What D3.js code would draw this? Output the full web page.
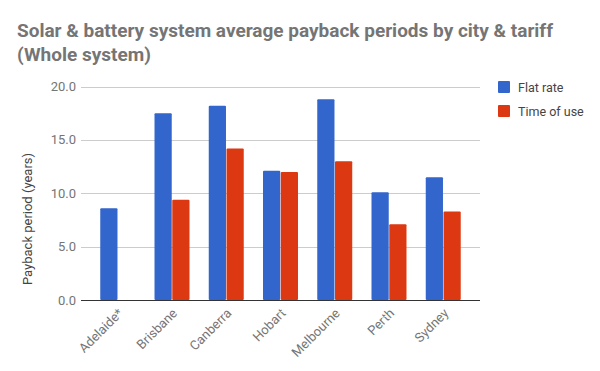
<!DOCTYPE html>
<html>
<head>
<meta charset="utf-8">
<script src="https://cdn.jsdelivr.net/npm/d3@7"></script>
<style>
  body { margin: 0; background: #fff; }
  text { font-family: Roboto, "Noto Sans", sans-serif; }
  .grid line { stroke: #cccccc; }
  .tick-label { fill: #757575; font-size: 13px; }
</style>
</head>
<body>
<svg id="chart" width="600" height="371"></svg>
<script>
// chart data
var cities = ["Adelaide*", "Brisbane", "Canberra", "Hobart", "Melbourne", "Perth", "Sydney"];
var seriesNames = ["Flat rate", "Time of use"];
var flatRate = [8.6, 17.5, 18.2, 12.1, 18.8, 10.1, 11.5];
var timeOfUse = [null, 9.4, 14.2, 12.0, 13.0, 7.1, 8.3];
var yTicks = [0, 5, 10, 15, 20];

var colors = ["#3366cc", "#dc3912"];

var svg = d3.select("#chart"),
    plotLeft = 81, plotRight = 480, plotTop = 86.5, plotBottom = 300;

var x = d3.scaleBand()
  .domain(cities)
  .range([plotLeft, plotRight])
  .paddingInner(0.355)
  .paddingOuter(0.355);

var xSub = d3.scaleBand()
  .domain(seriesNames)
  .range([0, x.bandwidth()])
  .paddingInner(0.03);

var y = d3.scaleLinear()
  .domain([0, 20])
  .range([plotBottom, plotTop]);

// title
svg.append("text")
  .attr("x", 17)
  .attr("y", 37)
  .attr("fill", "#757575")
  .attr("font-size", "19px")
  .attr("font-weight", "bold")
  .text("Solar & battery system average payback periods by city & tariff");
svg.append("text")
  .attr("x", 17)
  .attr("y", 61)
  .attr("fill", "#757575")
  .attr("font-size", "19px")
  .attr("font-weight", "bold")
  .text("(Whole system)");

// gridlines
svg.append("g")
  .attr("class", "grid")
  .selectAll("line")
  .data(yTicks.slice(1))
  .enter().append("line")
    .attr("x1", plotLeft)
    .attr("x2", plotRight)
    .attr("y1", function(d) { return Math.round(y(d)) + 0.5; })
    .attr("y2", function(d) { return Math.round(y(d)) + 0.5; });

// y tick labels
svg.selectAll(".ylab")
  .data(yTicks)
  .enter().append("text")
    .attr("class", "tick-label")
    .attr("x", plotLeft - 5)
    .attr("y", function(d) { return y(d); })
    .attr("dy", "0.35em")
    .attr("text-anchor", "end")
    .text(function(d) { return d3.format(".1f")(d); });

// y axis title
svg.append("text")
  .attr("transform", "translate(32,219) rotate(-90)")
  .attr("text-anchor", "middle")
  .attr("fill", "#444")
  .attr("font-size", "13px")
  .text("Payback period (years)");

// bars
var rows = cities.map(function(c, i) {
  return { city: c, values: [flatRate[i], timeOfUse[i]] };
});

var group = svg.selectAll(".city")
  .data(rows)
  .enter().append("g")
    .attr("class", "city")
    .attr("transform", function(d) { return "translate(" + x(d.city) + ",0)"; });

group.selectAll("rect")
  .data(function(d) {
    return d.values.map(function(v, j) { return { key: seriesNames[j], value: v, j: j }; })
      .filter(function(e) { return e.value != null; });
  })
  .enter().append("rect")
    .attr("x", function(d) { return xSub(d.key); })
    .attr("width", xSub.bandwidth())
    .attr("y", function(d) { return y(d.value); })
    .attr("height", function(d) { return plotBottom - y(d.value); })
    .attr("rx", 1)
    .attr("fill", function(d) { return colors[d.j]; });

// baseline
svg.append("line")
  .attr("x1", plotLeft)
  .attr("x2", plotRight)
  .attr("y1", plotBottom + 0.5)
  .attr("y2", plotBottom + 0.5)
  .attr("stroke", "#333")
  .attr("stroke-width", 1);

// x labels
svg.selectAll(".xlab")
  .data(cities)
  .enter().append("text")
    .attr("class", "tick-label")
    .attr("text-anchor", "end")
    .attr("transform", function(d) {
      return "translate(" + (x(d) + x.bandwidth() / 2 + 6) + "," + (plotBottom + 14) + ") rotate(-45)";
    })
    .text(function(d) { return d; });

// legend
var legend = svg.selectAll(".legend")
  .data(seriesNames)
  .enter().append("g")
    .attr("class", "legend")
    .attr("transform", function(d, i) { return "translate(498," + (81 + i * 24) + ")"; });

legend.append("rect")
  .attr("width", 12)
  .attr("height", 12)
  .attr("rx", 1)
  .attr("fill", function(d, i) { return colors[i]; });

legend.append("text")
  .attr("x", 20)
  .attr("y", 10.5)
  .attr("fill", "#444")
  .attr("font-size", "12.5px")
  .text(function(d) { return d; });
</script>
</body>
</html>
